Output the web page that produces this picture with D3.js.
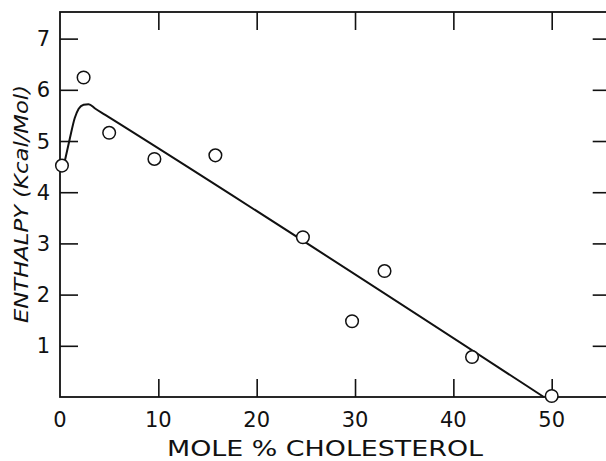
<!DOCTYPE html>
<html>
<head>
<meta charset="utf-8">
<script src="https://cdn.jsdelivr.net/npm/d3@7"></script>
<style>
html,body{margin:0;padding:0;background:#fff;}
svg{display:block;}
text{font-family:"DejaVu Sans",sans-serif;fill:#111;}
</style>
</head>
<body>
<svg id="chart" width="606" height="461"></svg>
<script>
// Data
const cholesterol = [0.2, 2.4, 5.0, 9.6, 15.8, 24.7, 29.7, 33.0, 41.9, 50.0];
const enthalpy    = [4.52, 6.24, 5.16, 4.65, 4.72, 3.12, 1.48, 2.46, 0.78, 0.02];
const fitX = [0.5, 1.0, 1.5, 1.9, 2.4, 2.9, 3.6, 4.6, 49.2];
const fitY = [4.62, 5.05, 5.45, 5.63, 5.71, 5.72, 5.63, 5.51, 0.0];
const xTicks = [10, 20, 30, 40, 50];
const xLabels = ["0", "10", "20", "30", "40", "50"];
const xLabelVals = [0, 10, 20, 30, 40, 50];
const yTicks = [1, 2, 3, 4, 5, 6, 7];
const xDomain = [0, 56];
const yDomain = [0, 7.52];
const xTitle = "MOLE % CHOLESTEROL";
const yTitle = "ENTHALPY (Kcal/Mol)";

const svg = d3.select("#chart");
const L = 60, R = 610.7, T = 12, B = 397;
const x = d3.scaleLinear().domain(xDomain).range([L, R]);
const y = d3.scaleLinear().domain(yDomain).range([B, T]);
const tickLen = 18;

// frame
svg.append("rect").attr("x", L).attr("y", T).attr("width", R - L).attr("height", B - T)
  .attr("fill", "none").attr("stroke", "#111").attr("stroke-width", 1.8);

// axes via d3 axis generators (inward ticks, labels handled separately)
const gB = svg.append("g").attr("transform", `translate(0,${B})`)
  .call(d3.axisBottom(x).tickValues(xTicks).tickSize(-tickLen).tickFormat(""));
const gT = svg.append("g").attr("transform", `translate(0,${T})`)
  .call(d3.axisTop(x).tickValues(xTicks).tickSize(-tickLen).tickFormat(""));
const gL = svg.append("g").attr("transform", `translate(${L},0)`)
  .call(d3.axisLeft(y).tickValues(yTicks).tickSize(-tickLen).tickFormat(""));
const gR = svg.append("g").attr("transform", `translate(${R},0)`)
  .call(d3.axisRight(y).tickValues(yTicks).tickSize(-tickLen).tickFormat(""));
[gB, gT, gL, gR].forEach(g => {
  g.select(".domain").remove();
  g.selectAll(".tick line").attr("stroke", "#111").attr("stroke-width", 1.6);
});

// x tick labels
svg.append("g").selectAll("text").data(xLabelVals).join("text")
  .attr("x", d => x(d)).attr("y", 426.5)
  .attr("text-anchor", "middle").attr("font-size", 21)
  .text((d, i) => xLabels[i]);

// y tick labels
svg.append("g").selectAll("text").data(yTicks).join("text")
  .attr("x", 50).attr("y", d => y(d) + 7.5)
  .attr("text-anchor", "end").attr("font-size", 21)
  .text(d => d);

// axis titles
svg.append("text").attr("x", 325).attr("y", 456)
  .attr("text-anchor", "middle").attr("font-size", 22)
  .attr("textLength", 316).attr("lengthAdjust", "spacingAndGlyphs")
  .text(xTitle);
svg.append("text").attr("transform", "translate(28,204) rotate(-90)")
  .attr("text-anchor", "middle").attr("font-size", 20).attr("font-style", "italic")
  .attr("textLength", 238).attr("lengthAdjust", "spacingAndGlyphs")
  .text(yTitle);

// fitted curve
const line = d3.line().x(d => x(d[0])).y(d => y(d[1])).curve(d3.curveMonotoneX);
svg.append("path").datum(fitX.map((v, i) => [v, fitY[i]]))
  .attr("d", line).attr("fill", "none").attr("stroke", "#111").attr("stroke-width", 2);

// data points
svg.append("g").selectAll("circle").data(cholesterol.map((v, i) => [v, enthalpy[i]])).join("circle")
  .attr("cx", d => x(d[0])).attr("cy", d => y(d[1])).attr("r", 6.3)
  .attr("fill", "#fff").attr("stroke", "#111").attr("stroke-width", 1.5);
</script>
</body>
</html>
